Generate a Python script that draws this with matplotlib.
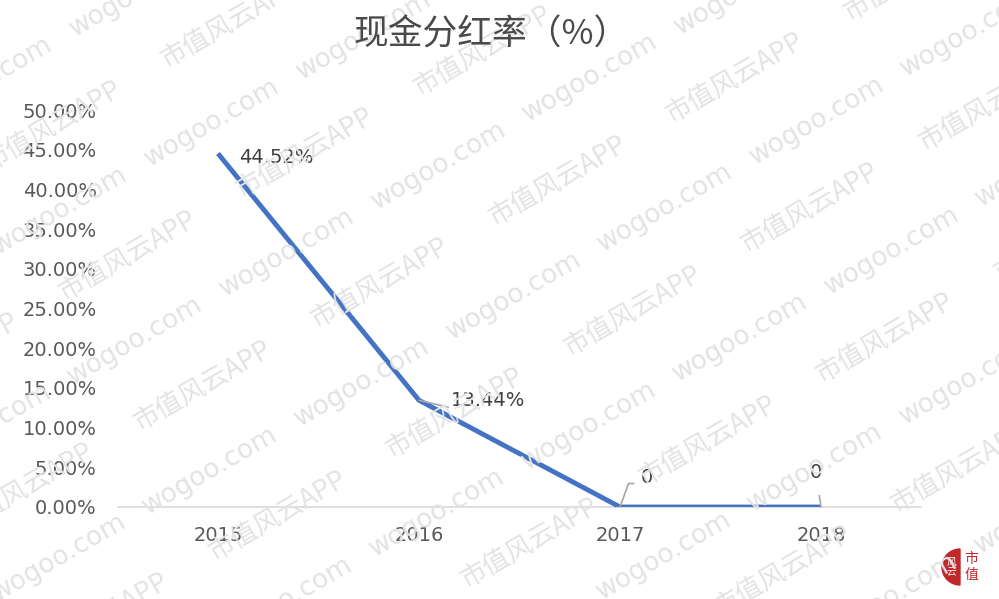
import matplotlib
matplotlib.use("Agg")
import matplotlib.pyplot as plt
from matplotlib.patches import Wedge
import numpy as np

plt.rcParams['font.family'] = ['Noto Sans CJK SC', 'DejaVu Sans']

years = ["2015", "2016", "2017", "2018"]
ratio = [0.4452, 0.1344, 0.0, 0.0]
labels = ["44.52%", "13.44%", "0", "0"]
yticks = [0.0, 0.05, 0.10, 0.15, 0.20, 0.25, 0.30, 0.35, 0.40, 0.45, 0.50]
title = "现金分红率（%）"

W, H = 999, 599
fig = plt.figure(figsize=(W / 100, H / 100), dpi=100)
fig.patch.set_facecolor("white")

# watermark (decorative), placed on a rotated lattice in pixel space
wm_color = "#e3e3e3"
ang = 30
u = np.array([np.cos(np.radians(ang)), -np.sin(np.radians(ang))])   # along text (image coords)
n = np.array([np.sin(np.radians(ang)), np.cos(np.radians(ang))])    # perpendicular (down)
origin = np.array([603.0, 252.0])


def put_mark(p, s, fam):
    X, Y = p
    if -200 < X < W + 10 and -10 < Y < H + 200:
        fig.text(X / W, 1 - Y / H, s, rotation=ang, rotation_mode="anchor",
                 fontsize=19, color=wm_color, ha="left", va="baseline",
                 family=fam, zorder=0)


for k in range(-6, 7):
    for m in range(-8, 9):
        put_mark(origin + 150 * k * n + 175 * m * u, "wogoo.com", ['DejaVu Sans'])
        put_mark(origin + (73 + 150 * k) * n + (124 + 205 * m) * u, "市值风云APP",
                 ['Noto Sans CJK SC', 'DejaVu Sans'])

ax = fig.add_axes([117.5 / W, 1 - 507 / H, (921.5 - 117.5) / W, (507 - 110) / H])
ax.patch.set_alpha(0)
x = np.arange(len(years))
ax.plot(x, ratio, color="#4472C4", lw=3.5, solid_capstyle="butt", zorder=3)
ax.set_xlim(-0.5, 3.5)
ax.set_ylim(0, 0.5)
for sp in ["top", "right", "left"]:
    ax.spines[sp].set_visible(False)
ax.spines["bottom"].set_color("#d9d9d9")
ax.spines["bottom"].set_linewidth(1.2)
ax.spines["bottom"].set_zorder(2)
ax.set_xticks(x)
ax.set_xticklabels(years)
ax.set_yticks(yticks)
ax.set_yticklabels(["%.2f%%" % (v * 100) for v in yticks])
ax.tick_params(axis="both", length=0, labelsize=14, colors="#595959")
ax.tick_params(axis="y", pad=15)
ax.tick_params(axis="x", pad=14)
for t in ax.get_yticklabels() + ax.get_xticklabels():
    t.set_family(['DejaVu Sans'])

lc = "#a6a6a6"
tc = "#404040"
ax.annotate(labels[0], (x[0], ratio[0]), xytext=(15, -3), textcoords="offset points",
            fontsize=14, color=tc, ha="left", va="center", family=['DejaVu Sans'])
ax.annotate(labels[1], (x[1], ratio[1]), xytext=(23, 0), textcoords="offset points",
            fontsize=14, color=tc, ha="left", va="center", family=['DejaVu Sans'],
            arrowprops=dict(arrowstyle="-", color=lc, lw=1.2, shrinkA=0, shrinkB=0,
                            relpos=(0, 0.1)))
ax.annotate(labels[2], (x[2], ratio[2]), xytext=(15, 21), textcoords="offset points",
            fontsize=14, color=tc, ha="left", va="center", family=['DejaVu Sans'],
            arrowprops=dict(arrowstyle="-", color=lc, lw=1.2, shrinkA=3, shrinkB=0,
                            relpos=(0, 0.2),
                            connectionstyle="angle,angleA=0,angleB=70,rad=0"))
ax.annotate(labels[3], (x[3], ratio[3]), xytext=(-8, 25), textcoords="offset points",
            fontsize=14, color=tc, ha="left", va="center", family=['DejaVu Sans'],
            arrowprops=dict(arrowstyle="-", color=lc, lw=1.2, shrinkA=8, shrinkB=0,
                            relpos=(0.6, 0)))

fig.text(491 / W, 1 - 35 / H, title, fontsize=25, color="#4a4a4a", ha="center", va="center")

# logo
lax = fig.add_axes([930 / W, 0, 69 / W, 60 / H])
lax.set_xlim(0, 69)
lax.set_ylim(0, 60)
lax.axis("off")
lax.add_patch(Wedge((30, 32), 18, 90, 270, color="#c0282a"))
lax.text(21, 32, "风\n云", fontsize=7, color="white", ha="center", va="center", linespacing=1.0)
lax.text(41, 32, "市\n值", fontsize=10, color="#c0282a", ha="center", va="center", linespacing=1.1)

fig.savefig("out.png", dpi=100)
